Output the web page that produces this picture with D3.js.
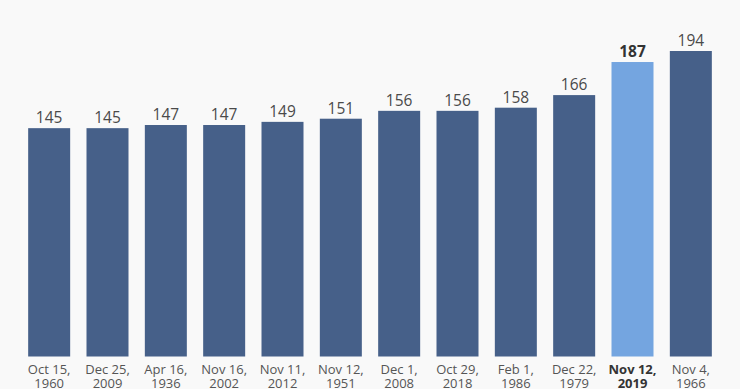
<!DOCTYPE html>
<html>
<head>
<meta charset="utf-8">
<script src="https://cdn.jsdelivr.net/npm/d3@7"></script>
<style>
  html, body { margin: 0; padding: 0; background: #f9f9f9; }
  #chartPlaceholder { width: 740px; height: 389px; }
  text { font-family: "Open Sans", "Noto Sans", sans-serif; }
</style>
</head>
<body>
<div id="chartPlaceholder"></div>
<script>
const dateLabels = ["Oct 15,", "Dec 25,", "Apr 16,", "Nov 16,", "Nov 11,", "Nov 12,", "Dec 1,", "Oct 29,", "Feb 1,", "Dec 22,", "Nov 12,", "Nov 4,"];
const yearLabels = ["1960", "2009", "1936", "2002", "2012", "1951", "2008", "2018", "1986", "1979", "2019", "1966"];
const values = [145, 145, 147, 147, 149, 151, 156, 156, 158, 166, 187, 194];
const highlightIndex = 10;

const width = 740,
  height = 389;
const baseY = 356.5;

const svg = d3
  .select("#chartPlaceholder")
  .append("svg")
  .attr("width", width)
  .attr("height", height);

const keys = values.map((v, i) => i);

// x scale
const x = d3.scaleBand().domain(keys).range([20, 720]).paddingInner(0.28).paddingOuter(0.14);

// y scale
const y = d3.scaleLinear().domain([0, 194]).range([baseY, 51]);

// bars
svg
  .selectAll(".bar")
  .data(keys)
  .join("rect")
  .attr("class", "bar")
  .attr("x", (i) => x(i))
  .attr("y", (i) => y(values[i]))
  .attr("width", x.bandwidth())
  .attr("height", (i) => baseY - y(values[i]))
  .style("fill", (i) => (i === highlightIndex ? "#74a5e0" : "#466089"));

// value labels
svg
  .selectAll(".value")
  .data(keys)
  .join("text")
  .attr("class", "value")
  .attr("x", (i) => x(i) + x.bandwidth() / 2)
  .attr("y", (i) => y(values[i]) - 5)
  .attr("text-anchor", "middle")
  .style("font-size", "15.5px")
  .style("font-weight", (i) => (i === highlightIndex ? "bold" : "normal"))
  .style("fill", (i) => (i === highlightIndex ? "#333" : "#4a4a4a"))
  .text((i) => values[i]);

// x axis labels (two lines)
const xLabels = svg
  .selectAll(".xlabel")
  .data(keys)
  .join("text")
  .attr("class", "xlabel")
  .attr("text-anchor", "middle")
  .style("font-size", "13px")
  .style("font-weight", (i) => (i === highlightIndex ? "bold" : "normal"))
  .style("fill", (i) => (i === highlightIndex ? "#333" : "#555"));

xLabels
  .append("tspan")
  .attr("x", (i) => x(i) + x.bandwidth() / 2)
  .attr("y", 373.5)
  .text((i) => dateLabels[i]);

xLabels
  .append("tspan")
  .attr("x", (i) => x(i) + x.bandwidth() / 2)
  .attr("y", 387.5)
  .text((i) => yearLabels[i]);
</script>
</body>
</html>
